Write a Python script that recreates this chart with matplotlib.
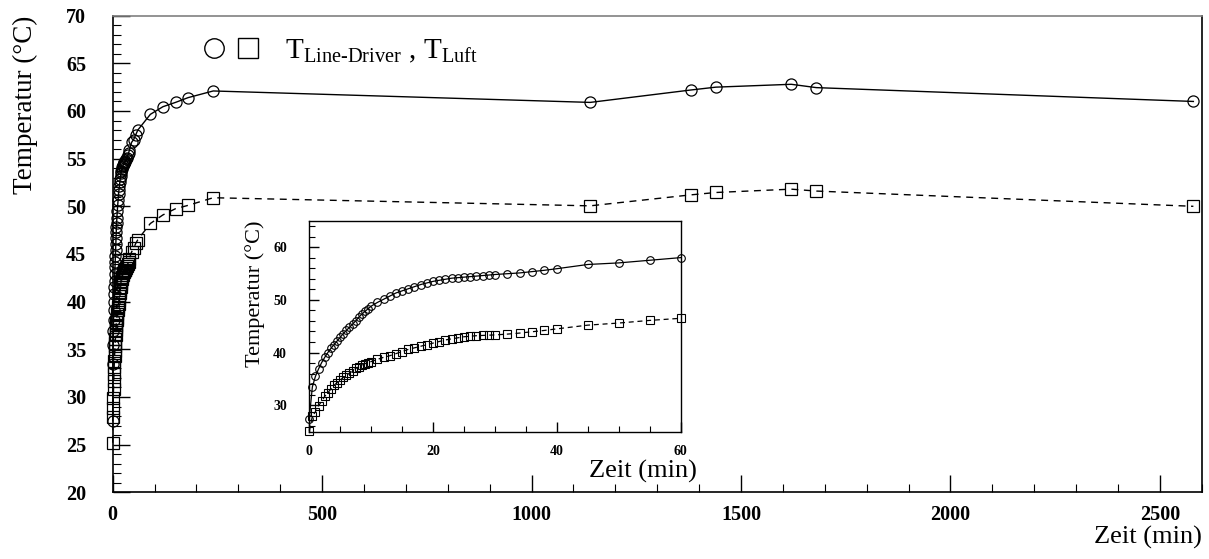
import matplotlib
matplotlib.use("Agg")
import matplotlib.pyplot as plt
from matplotlib.lines import Line2D
from matplotlib.legend_handler import HandlerTuple
from matplotlib.ticker import MultipleLocator

plt.rcParams['font.family'] = ['Liberation Serif', 'DejaVu Serif']
plt.rcParams['mathtext.fontset'] = 'custom'
plt.rcParams['mathtext.rm'] = 'Liberation Serif'

# Zeit in Minuten
zeit = [0, 0.5, 1, 1.5, 2, 2.5, 3, 3.5, 4, 4.5, 5, 5.5, 6, 6.5, 7, 7.5, 8, 8.5, 9, 9.5, 10,
        11, 12, 13, 14, 15, 16, 17, 18, 19, 20, 21, 22, 23, 24, 25, 26, 27, 28, 29, 30,
        32, 34, 36, 38, 40, 45, 50, 55, 60,
        90, 120, 150, 180, 240, 1140, 1380, 1440, 1620, 1680, 2580]

# Temperatur Line-Driver
t_line = [27.5, 33.5, 35.5, 36.9, 38.1, 39.1, 40.0, 40.8, 41.5, 42.2, 42.9, 43.6, 44.2, 44.8,
          45.4, 46.0, 46.7, 47.3, 47.8, 48.3, 48.8,
          49.5, 50.1, 50.7, 51.3, 51.7, 52.1, 52.5, 52.9, 53.2, 53.5, 53.7, 53.9, 54.1, 54.2,
          54.3, 54.4, 54.5, 54.6, 54.7, 54.8,
          54.95, 55.1, 55.35, 55.6, 55.9, 56.7, 57.0, 57.5, 58.0,
          59.65, 60.45, 60.9, 61.4, 62.1, 60.9, 62.2, 62.5, 62.8, 62.45, 61.0]

# Temperatur Luft
t_luft = [25.2, 27.9, 28.8, 29.9, 30.8, 31.7, 32.4, 33.1, 33.8, 34.3, 34.8, 35.3, 35.7, 36.1,
          36.5, 37.0, 37.3, 37.6, 37.9, 38.1, 38.3,
          38.7, 39.1, 39.4, 39.8, 40.2, 40.6, 40.9, 41.2, 41.5, 41.8, 42.1, 42.4, 42.6, 42.8,
          43.0, 43.1, 43.2, 43.25, 43.3, 43.35,
          43.5, 43.7, 43.95, 44.2, 44.5, 45.2, 45.6, 46.1, 46.5,
          48.2, 49.1, 49.75, 50.1, 50.9, 50.05, 51.2, 51.45, 51.8, 51.6, 50.0]

# nur die erste Stunde fuer den Einschub
n_in = zeit.index(60) + 1


def style_axes(ax, size, major_len, minor_len, xpad, ypad):
    ax.tick_params(which='both', direction='in', top=False, right=False)
    ax.tick_params(which='major', length=major_len, width=1, labelsize=size)
    ax.tick_params(which='minor', length=minor_len, width=0.8)
    ax.tick_params(axis='x', which='major', pad=xpad)
    ax.tick_params(axis='y', which='major', pad=ypad)
    for lab in ax.get_xticklabels() + ax.get_yticklabels():
        lab.set_fontweight('bold')
    for sp in ax.spines.values():
        sp.set_linewidth(1.2)


fig = plt.figure(figsize=(12.09, 5.59), dpi=100)
ax = fig.add_axes([0.0932, 0.1193, 0.9008, 0.8527])

ax.plot(zeit, t_line, '-', color='black', lw=1, marker='o', ms=8,
        mfc='none', mec='black', mew=0.9, clip_on=False)
ax.plot(zeit, t_luft, '--', color='black', lw=1, marker='s', ms=8,
        mfc='none', mec='black', mew=0.9, dashes=(5, 4), clip_on=False)

ax.set_xlim(0, 2600)
ax.set_ylim(20, 70)
ax.xaxis.set_major_locator(MultipleLocator(500))
ax.xaxis.set_minor_locator(MultipleLocator(100))
ax.yaxis.set_major_locator(MultipleLocator(5))
ax.yaxis.set_minor_locator(MultipleLocator(1))
style_axes(ax, 14.5, 12, 6, 9, 19)
ax.spines['top'].set_color('#808080')

ax.set_xlabel('Zeit (min)', fontsize=19, loc='right', labelpad=1)
ax.set_ylabel('Temperatur (°C)', fontsize=19.5, loc='top', labelpad=20)

h_circ = Line2D([], [], ls='none', marker='o', ms=14, mfc='none', mec='black', mew=1)
h_sq = Line2D([], [], ls='none', marker='s', ms=14, mfc='none', mec='black', mew=1)
ax.legend(handles=[(h_circ, h_sq)],
          labels=[r'$\mathrm{T}_{\mathrm{Line}\text{-}\mathrm{Driver}}$ , $\mathrm{T}_{\mathrm{Luft}}$'],
          handler_map={tuple: HandlerTuple(ndivide=None, pad=0.15)},
          loc='upper left', bbox_to_anchor=(0.0655, 0.985), frameon=False,
          fontsize=21, handlelength=2.2, handletextpad=0.75, borderpad=0)

# Einschub: erste Stunde
ax_in = fig.add_axes([0.2558, 0.2277, 0.3072, 0.3775])
ax_in.plot(zeit[:n_in], t_line[:n_in], '-', color='black', lw=0.9, marker='o', ms=5.5,
           mfc='none', mec='black', mew=0.8, clip_on=False)
ax_in.plot(zeit[:n_in], t_luft[:n_in], '--', color='black', lw=0.9, marker='s', ms=5.5,
           mfc='none', mec='black', mew=0.8, dashes=(4, 3), clip_on=False)
ax_in.set_xlim(0, 60)
ax_in.set_ylim(25, 65)
ax_in.xaxis.set_major_locator(MultipleLocator(20))
ax_in.xaxis.set_minor_locator(MultipleLocator(5))
ax_in.yaxis.set_major_locator(MultipleLocator(10))
ax_in.yaxis.set_minor_locator(MultipleLocator(2))
style_axes(ax_in, 10, 7, 4, 9.5, 16)
for sp in ax_in.spines.values():
    sp.set_linewidth(1)

ax_in.set_xlabel('Zeit (min)', fontsize=19, loc='right')
ax_in.xaxis.set_label_coords(1.044, -0.135)
ax_in.set_ylabel('Temperatur (°C)', fontsize=16, loc='top', labelpad=6)

fig.savefig('out.png', dpi=100)
